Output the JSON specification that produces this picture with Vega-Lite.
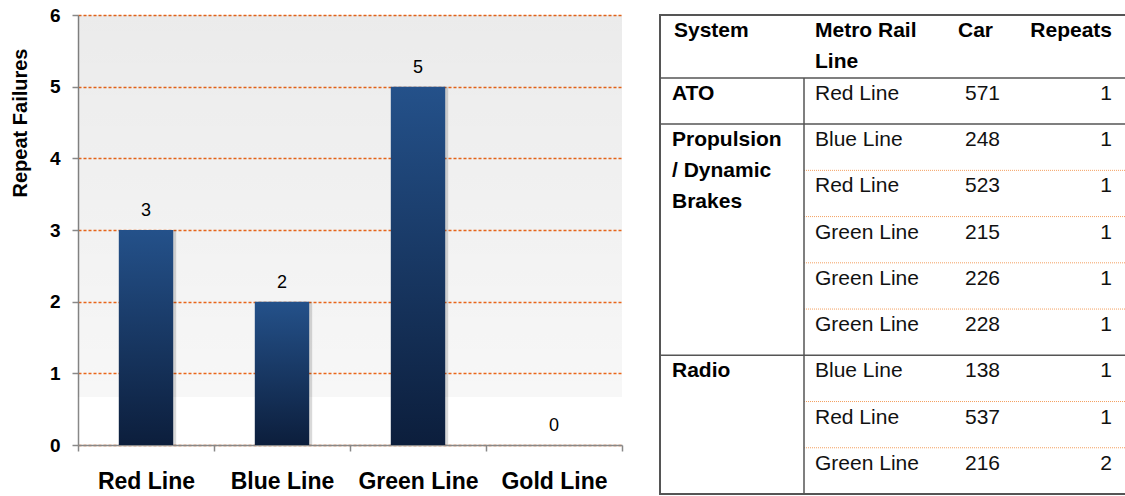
{
  "$schema": "https://vega.github.io/schema/vega-lite/v6.json",
  "background": "white",
  "padding": {"left": 10, "top": 6, "right": 0, "bottom": 0},
  "config": {"font": "Liberation Sans", "view": {"stroke": null}},
  "spacing": 35,
  "datasets": {
    "bars": [
      {"line": "Red Line", "failures": 3},
      {"line": "Blue Line", "failures": 2},
      {"line": "Green Line", "failures": 5},
      {"line": "Gold Line", "failures": 0}
    ],
    "table": [
      {"row": 0, "system": "ATO", "line": "Red Line", "car": 571, "repeats": 1},
      {"row": 1, "system": ["Propulsion", "/ Dynamic", "Brakes"], "line": "Blue Line", "car": 248, "repeats": 1},
      {"row": 2, "system": "", "line": "Red Line", "car": 523, "repeats": 1},
      {"row": 3, "system": "", "line": "Green Line", "car": 215, "repeats": 1},
      {"row": 4, "system": "", "line": "Green Line", "car": 226, "repeats": 1},
      {"row": 5, "system": "", "line": "Green Line", "car": 228, "repeats": 1},
      {"row": 6, "system": "Radio", "line": "Blue Line", "car": 138, "repeats": 1},
      {"row": 7, "system": "", "line": "Red Line", "car": 537, "repeats": 1},
      {"row": 8, "system": "", "line": "Green Line", "car": 216, "repeats": 2}
    ],
    "header": [
      {"system": "System", "line": ["Metro Rail", "Line"], "car": "Car", "repeats": "Repeats"}
    ]
  },
  "hconcat": [
    {
      "width": 544,
      "height": 430,
      "layer": [
        {
          "data": {"values": [{}]},
          "mark": {
            "type": "rect",
            "color": {
              "gradient": "linear", "x1": 0, "y1": 0, "x2": 0, "y2": 1,
              "stops": [
                {"offset": 0, "color": "rgba(0,0,0,0.08)"},
                {"offset": 1, "color": "rgba(0,0,0,0.03)"}
              ]
            }
          },
          "encoding": {
            "y": {"datum": 6, "type": "quantitative"},
            "y2": {"datum": 0.67}
          }
        },
        {
          "data": {"name": "bars"},
          "mark": {"type": "bar", "color": "#000", "opacity": 0.15, "xOffset": 3, "width": {"band": 0.4}},
          "encoding": {
            "x": {"field": "line", "type": "nominal", "sort": null},
            "y": {"field": "failures", "type": "quantitative"}
          }
        },
        {
          "data": {"name": "bars"},
          "mark": {
            "type": "bar",
            "width": {"band": 0.4},
            "color": {
              "gradient": "linear", "x1": 0, "y1": 0, "x2": 0, "y2": 1,
              "stops": [
                {"offset": 0, "color": "#24518a"},
                {"offset": 1, "color": "#0c1e3c"}
              ]
            }
          },
          "encoding": {
            "x": {
              "field": "line", "type": "nominal", "sort": null,
              "scale": {"paddingInner": 0, "paddingOuter": 0},
              "axis": {
                "title": null, "labelAngle": 0, "labelAlign": "center", "labelFontSize": 23, "labelFontWeight": "bold",
                "labelColor": "#000", "labelPadding": 30, "tickBand": "extent", "tickSize": 6,
                "tickColor": "#888", "tickWidth": 1.5, "domainColor": "#888", "domainWidth": 1.5
              }
            },
            "y": {
              "field": "failures", "type": "quantitative",
              "scale": {"domain": [0, 6], "nice": false},
              "axis": {
                "title": "Repeat Failures", "values": [0, 1, 2, 3, 4, 5, 6], "format": "d", "grid": true,
                "gridColor": "#f26a1b", "gridDash": [3, 2], "gridWidth": 1.5,
                "labelFontSize": 19, "labelFontWeight": "bold", "labelColor": "#000", "labelPadding": 12,
                "tickSize": 6, "tickColor": "#888", "tickWidth": 1.5, "domainColor": "#888", "domainWidth": 1.5,
                "titleFontSize": 20, "titleFontWeight": "bold", "titleColor": "#000",
                "titleAnchor": "end", "titleY": 33, "titlePadding": 19
              }
            }
          }
        },
        {
          "data": {"name": "bars"},
          "mark": {"type": "text", "dy": -14, "baseline": "alphabetic", "fontSize": 18, "color": "#000"},
          "encoding": {
            "x": {"field": "line", "type": "nominal", "sort": null},
            "y": {"field": "failures", "type": "quantitative"},
            "text": {"field": "failures", "type": "quantitative"}
          }
        }
      ]
    },
    {
      "width": 466,
      "height": 479,
      "view": {"stroke": "#555", "strokeWidth": 2},
      "layer": [
        {
          "data": {"name": "table"},
          "transform": [{"filter": "length(datum.system) > 0"}],
          "mark": {"type": "rule", "color": "#555", "strokeWidth": 1.5},
          "encoding": {
            "x": {"datum": 0, "type": "quantitative", "scale": {"domain": [0, 466], "nice": false, "zero": false}, "axis": null},
            "x2": {"datum": 466},
            "y": {"field": "row", "type": "quantitative", "scale": {"domain": [-1.36, 9], "reverse": true, "nice": false, "zero": false}, "axis": null}
          }
        },
        {
          "data": {"name": "table"},
          "transform": [{"filter": "length(datum.system) == 0"}],
          "mark": {"type": "rule", "color": "#f4a060", "strokeWidth": 1, "strokeDash": [1, 1]},
          "encoding": {
            "x": {"datum": 144, "type": "quantitative"},
            "x2": {"datum": 466},
            "y": {"field": "row", "type": "quantitative"}
          }
        },
        {
          "data": {"values": [{}]},
          "mark": {"type": "rule", "color": "#555", "strokeWidth": 1.5},
          "encoding": {
            "x": {"datum": 144, "type": "quantitative"},
            "y": {"datum": 0, "type": "quantitative"},
            "y2": {"datum": 9}
          }
        },
        {
          "data": {"name": "header"},
          "mark": {"type": "text", "align": "left", "baseline": "alphabetic", "dy": 22, "fontSize": 21, "fontWeight": "bold", "lineHeight": 31, "color": "#000"},
          "encoding": {
            "x": {"datum": 14, "type": "quantitative"},
            "y": {"datum": -1.36, "type": "quantitative"},
            "text": {"field": "system"}
          }
        },
        {
          "data": {"name": "header"},
          "mark": {"type": "text", "align": "left", "baseline": "alphabetic", "dy": 22, "fontSize": 21, "fontWeight": "bold", "lineHeight": 31, "color": "#000"},
          "encoding": {
            "x": {"datum": 155, "type": "quantitative"},
            "y": {"datum": -1.36, "type": "quantitative"},
            "text": {"field": "line"}
          }
        },
        {
          "data": {"name": "header"},
          "mark": {"type": "text", "align": "left", "baseline": "alphabetic", "dy": 22, "fontSize": 21, "fontWeight": "bold", "color": "#000"},
          "encoding": {
            "x": {"datum": 298, "type": "quantitative"},
            "y": {"datum": -1.36, "type": "quantitative"},
            "text": {"field": "car"}
          }
        },
        {
          "data": {"name": "header"},
          "mark": {"type": "text", "align": "right", "baseline": "alphabetic", "dy": 22, "fontSize": 21, "fontWeight": "bold", "color": "#000"},
          "encoding": {
            "x": {"datum": 452, "type": "quantitative"},
            "y": {"datum": -1.36, "type": "quantitative"},
            "text": {"field": "repeats"}
          }
        },
        {
          "data": {"name": "table"},
          "mark": {"type": "text", "align": "left", "baseline": "alphabetic", "dy": 22, "fontSize": 21, "fontWeight": "bold", "lineHeight": 31, "color": "#000"},
          "encoding": {
            "x": {"datum": 12, "type": "quantitative"},
            "y": {"field": "row", "type": "quantitative"},
            "text": {"field": "system"}
          }
        },
        {
          "data": {"name": "table"},
          "mark": {"type": "text", "align": "left", "baseline": "alphabetic", "dy": 22, "fontSize": 21, "color": "#111"},
          "encoding": {
            "x": {"datum": 155, "type": "quantitative"},
            "y": {"field": "row", "type": "quantitative"},
            "text": {"field": "line"}
          }
        },
        {
          "data": {"name": "table"},
          "mark": {"type": "text", "align": "left", "baseline": "alphabetic", "dy": 22, "fontSize": 21, "color": "#111"},
          "encoding": {
            "x": {"datum": 305, "type": "quantitative"},
            "y": {"field": "row", "type": "quantitative"},
            "text": {"field": "car"}
          }
        },
        {
          "data": {"name": "table"},
          "mark": {"type": "text", "align": "right", "baseline": "alphabetic", "dy": 22, "fontSize": 21, "color": "#111"},
          "encoding": {
            "x": {"datum": 452, "type": "quantitative"},
            "y": {"field": "row", "type": "quantitative"},
            "text": {"field": "repeats"}
          }
        }
      ]
    }
  ]
}
